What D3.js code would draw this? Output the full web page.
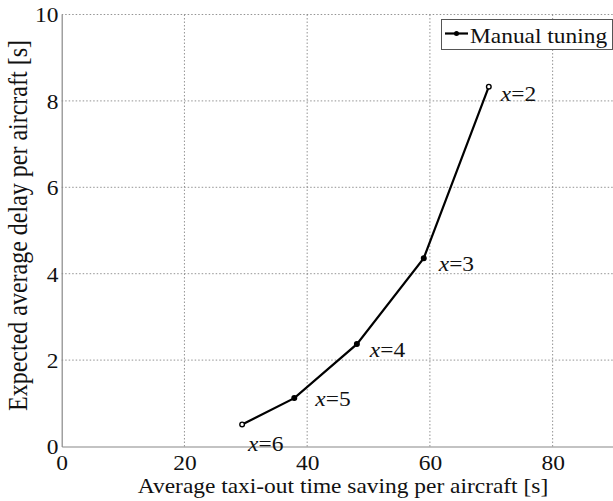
<!DOCTYPE html>
<html><head><meta charset="utf-8">
<script src="https://cdn.jsdelivr.net/npm/d3@7"></script>
<style>body{margin:0;background:#fff}svg{display:block}</style>
</head><body>
<svg id="c" width="613" height="501"></svg>
<script>
const xTicks = [0, 20, 40, 60, 80];
const yTicks = [0, 2, 4, 6, 8, 10];
const savings = [29.4, 37.9, 48.1, 59.0, 69.6];
const delays = [0.51, 1.12, 2.37, 4.36, 8.33];
const xLabels = ["6", "5", "4", "3", "2"];
const seriesName = "Manual tuning";
const xTitle = "Average taxi-out time saving per aircraft [s]";
const yTitle = "Expected average delay per aircraft [s]";

const labelOffsets = [[6, 27], [21, 8], [13, 13], [15, 13], [12, 14]];
const font = "Liberation Serif";
const sx = 1.115;
const ink = "#111";
const svg = d3.select("#c").attr("font-family", font);
const m = {l: 61.7, t: 14.5, r: 614, b: 446.5};
const x = d3.scaleLinear().domain([0, 90]).range([m.l, m.r]);
const y = d3.scaleLinear().domain([0, 10]).range([m.b, m.t]);

// grid
const g = svg.append("g");
g.selectAll(".gx").data(xTicks.filter(d => d > 0)).join("line")
  .attr("x1", d => x(d)).attr("x2", d => x(d)).attr("y1", m.b).attr("y2", m.t)
  .attr("stroke", "#777").attr("stroke-width", 0.8).attr("stroke-dasharray", "1.5,2");
g.selectAll(".gy").data(yTicks.filter(d => d > 0)).join("line")
  .attr("x1", m.l).attr("x2", m.r).attr("y1", d => y(d)).attr("y2", d => y(d))
  .attr("stroke", "#777").attr("stroke-width", 0.8).attr("stroke-dasharray", "1.5,2");

// axes
const xAxis = d3.axisBottom(x).tickValues(xTicks).tickSize(0).tickPadding(24);
const yAxis = d3.axisLeft(y).tickValues(yTicks).tickSize(0).tickPadding(3);
const gx = svg.append("g").attr("transform", `translate(0,${m.b})`).call(xAxis);
const gy = svg.append("g").attr("transform", `translate(${m.l},0)`).call(yAxis);
[gx, gy].forEach(a => {
  a.attr("font-family", font).attr("font-size", 21);
  a.select(".domain").attr("stroke", "#888").attr("stroke-width", 1.2);
  a.selectAll("text").attr("fill", ink).attr("transform", `scale(${sx},1)`);
});
gx.selectAll("text").attr("dy", 0);
gy.selectAll("text").attr("dy", "0.35em");

// titles
svg.append("text").attr("transform", `translate(${343},${492.7}) scale(${sx},1)`)
  .attr("text-anchor", "middle").attr("font-size", 21).attr("fill", ink)
  .text(xTitle);
svg.append("text").attr("transform", `translate(26.7,225.5) scale(${sx},1) rotate(-90)`)
  .attr("text-anchor", "middle").attr("font-size", 24).attr("fill", ink)
  .text(yTitle);

// series
const pts = savings.map((s, i) => [s, delays[i]]);
svg.append("path").datum(pts)
  .attr("d", d3.line().x(d => x(d[0])).y(d => y(d[1])))
  .attr("fill", "none").attr("stroke", "#000").attr("stroke-width", 2.2);
svg.selectAll(".pt").data(pts).join("circle")
  .attr("cx", d => x(d[0])).attr("cy", d => y(d[1])).attr("r", 2.3)
  .attr("fill", "#fff").attr("stroke", "#000").attr("stroke-width", 1.4);
svg.selectAll(".pd").data(pts.slice(1, -1)).join("circle")
  .attr("cx", d => x(d[0])).attr("cy", d => y(d[1])).attr("r", 2.3).attr("fill", "#000");

// point labels
const lab = svg.selectAll(".lab").data(pts).join("text")
  .attr("transform", (d, i) => `translate(${x(d[0]) + labelOffsets[i][0]},${y(d[1]) + labelOffsets[i][1]}) scale(${sx},1)`)
  .attr("font-size", 21).attr("fill", ink);
lab.append("tspan").attr("font-style", "italic").text("x");
lab.append("tspan").text((d, i) => "=" + xLabels[i]);

// legend
svg.append("rect").attr("x", 441.5).attr("y", 19.5).attr("width", 171).attr("height", 30)
  .attr("fill", "#fff").attr("stroke", "#555").attr("stroke-width", 1);
svg.append("line").attr("x1", 445).attr("x2", 468).attr("y1", 33.5).attr("y2", 33.5)
  .attr("stroke", "#000").attr("stroke-width", 2.2);
svg.append("circle").attr("cx", 456.5).attr("cy", 33.5).attr("r", 2.5).attr("fill", "#000");
svg.append("text").attr("transform", `translate(470,42.7) scale(${sx},1)`).attr("font-size", 21)
  .attr("fill", ink).text(seriesName);
</script>
</body></html>
